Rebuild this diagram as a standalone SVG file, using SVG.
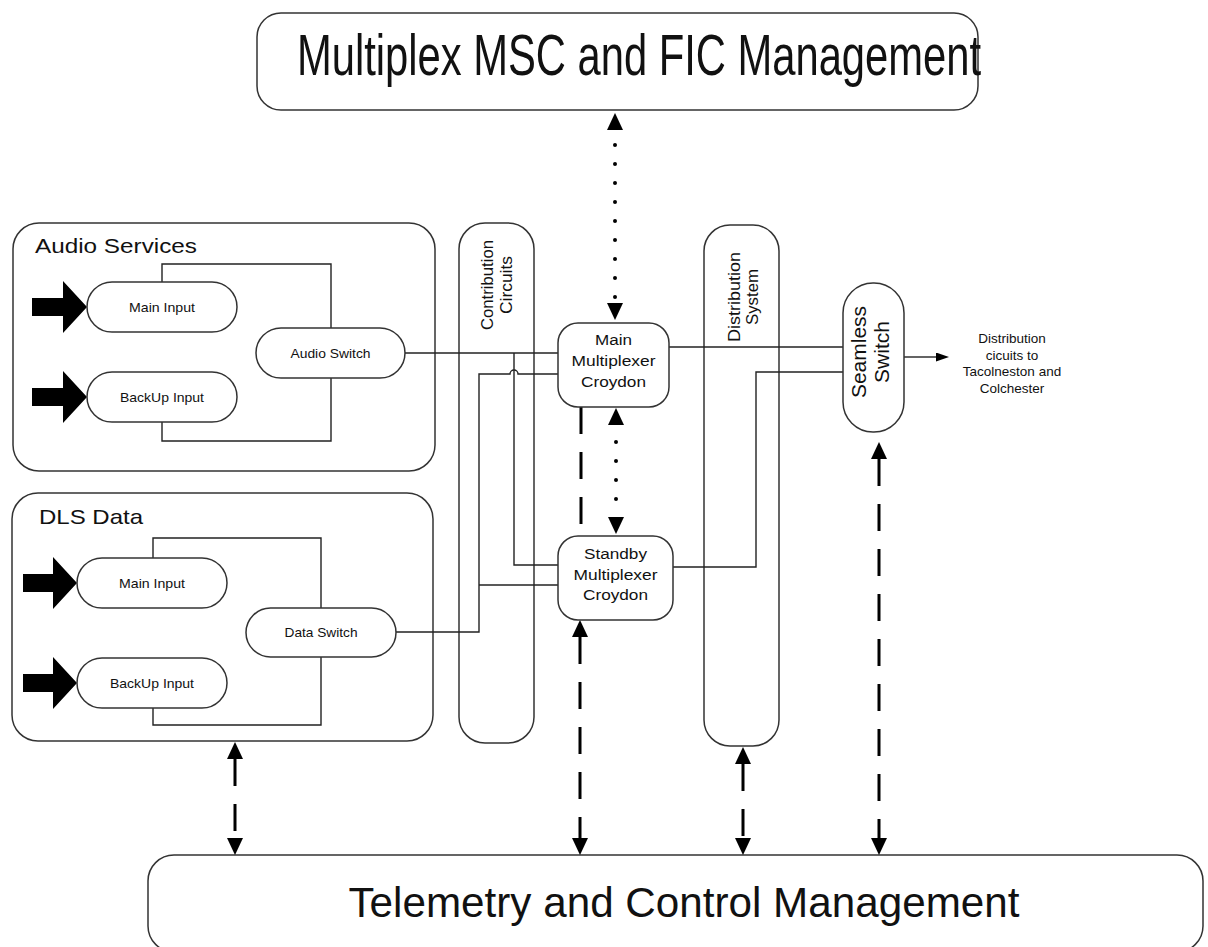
<svg xmlns="http://www.w3.org/2000/svg" width="1208" height="947" viewBox="0 0 1208 947">
<defs>
<style>
text{font-family:"Liberation Sans",Arial,sans-serif;fill:#111}
.box{fill:#fff;stroke:#333;stroke-width:1.5}
.wire{fill:none;stroke:#222;stroke-width:1.4}
.dash{fill:none;stroke:#000;stroke-width:3;stroke-dasharray:27 18}
.dot{fill:none;stroke:#000;stroke-width:4;stroke-linecap:round;stroke-dasharray:0 19}
.big{font-size:42px}
.ttl{font-size:21px}
.lbl{font-size:13px;text-anchor:middle}
.mux{font-size:15.5px;text-anchor:middle}
.rot{font-size:16px;text-anchor:middle}
.inarrow{fill:#000}
</style>
<marker id="ah" viewBox="0 0 17 16" refX="0" refY="8" markerWidth="17" markerHeight="16" markerUnits="userSpaceOnUse" orient="auto-start-reverse"><path d="M0,0 L17,8 L0,16 Z" fill="#000"/></marker>
<marker id="ahs" viewBox="0 0 13 9" refX="0" refY="4.5" markerWidth="13" markerHeight="9" markerUnits="userSpaceOnUse" orient="auto"><path d="M0,0 L13,4.5 L0,9 Z" fill="#000"/></marker>
</defs>
<rect width="1208" height="947" fill="#fff"/>

<g id="mux-mgmt">
<rect class="box" x="257" y="13" width="721" height="97" rx="24"/>
<text x="297" y="75" style="font-size:58px" textLength="684" lengthAdjust="spacingAndGlyphs">Multiplex MSC and FIC Management</text>
</g>

<g id="audio-services">
<rect class="box" x="13" y="223" width="422" height="248" rx="26"/>
<text class="ttl" x="35" y="253" textLength="162" lengthAdjust="spacingAndGlyphs">Audio Services</text>
</g>

<g id="dls-data">
<rect class="box" x="12" y="493" width="421" height="248" rx="26"/>
<text class="ttl" x="39" y="524" textLength="104" lengthAdjust="spacingAndGlyphs">DLS Data</text>
</g>

<g id="contribution-circuits">
<rect class="box" x="459" y="223" width="75" height="520" rx="26"/>
<g transform="translate(0,285) rotate(-90)">
<text class="rot" x="0" y="493" textLength="90" lengthAdjust="spacingAndGlyphs">Contribution</text>
<text class="rot" x="0" y="512" textLength="58" lengthAdjust="spacingAndGlyphs">Circuits</text>
</g>
</g>

<g id="distribution-system">
<rect class="box" x="704" y="225" width="75" height="521" rx="26"/>
<g transform="translate(0,297) rotate(-90)">
<text class="rot" x="0" y="740" textLength="90" lengthAdjust="spacingAndGlyphs">Distribution</text>
<text class="rot" x="0" y="758" textLength="56" lengthAdjust="spacingAndGlyphs">System</text>
</g>
</g>

<g id="telemetry">
<rect class="box" x="148" y="855" width="1055" height="97" rx="26"/>
<text class="big" x="684" y="917" text-anchor="middle" textLength="671" lengthAdjust="spacingAndGlyphs">Telemetry and Control Management</text>
</g>

<g id="connectors">
<path class="wire" d="M162,282 V264 H331 V328"/>
<path class="wire" d="M162,422 V441 H331 V378"/>
<path class="wire" d="M153,558 V538 H321 V608"/>
<path class="wire" d="M153,708 V725 H321 V657"/>
<path class="wire" d="M405,353 H558"/>
<path class="wire" d="M514,353 V565 H558"/>
<path class="wire" d="M396,632 H479 V374 H510 A4,4 0 0 1 518,374 H558"/>
<path class="wire" d="M479,585 H558"/>
<path class="wire" d="M669,347 H843"/>
<path class="wire" d="M673,567 H756 V372 H843"/>
<path class="wire" d="M904,357 H936" marker-end="url(#ahs)"/>
<path class="dot" d="M615,130 V303" style="stroke-dashoffset:4"/>
<path d="M615,130 V303" fill="none" stroke="none" marker-start="url(#ah)" marker-end="url(#ah)"/>
<path class="dot" d="M616,425 V517" style="stroke-dashoffset:2"/>
<path d="M616,425 V517" fill="none" stroke="none" marker-start="url(#ah)" marker-end="url(#ah)"/>
<path class="dash" d="M581,407 V525"/>
<path class="dash" d="M235,759 V838" marker-start="url(#ah)" marker-end="url(#ah)"/>
<path class="dash" d="M580,637 V838" marker-start="url(#ah)" marker-end="url(#ah)"/>
<path class="dash" d="M743,764 V838" marker-start="url(#ah)" marker-end="url(#ah)"/>
<path class="dash" d="M879,459 V838" marker-start="url(#ah)" marker-end="url(#ah)"/>
<polygon class="inarrow" points="32,298 63,298 63,281 87,307 63,333 63,316 32,316"/>
<polygon class="inarrow" points="32,388 63,388 63,371 87,397 63,423 63,406 32,406"/>
<polygon class="inarrow" points="23,574 53,574 53,557 77,583 53,609 53,592 23,592"/>
<polygon class="inarrow" points="23,674 53,674 53,657 77,683 53,709 53,692 23,692"/>
</g>

<g id="audio-main-input">
<rect class="box" x="87" y="282" width="150" height="50" rx="25"/>
<text class="lbl" x="162" y="312" textLength="66" lengthAdjust="spacingAndGlyphs">Main Input</text>
</g>
<g id="audio-backup-input">
<rect class="box" x="87" y="372" width="150" height="50" rx="25"/>
<text class="lbl" x="162" y="402" textLength="84" lengthAdjust="spacingAndGlyphs">BackUp Input</text>
</g>
<g id="audio-switch">
<rect class="box" x="256" y="328" width="149" height="50" rx="25"/>
<text class="lbl" x="330.5" y="358" textLength="80" lengthAdjust="spacingAndGlyphs">Audio Switch</text>
</g>

<g id="dls-main-input">
<rect class="box" x="77" y="558" width="150" height="50" rx="25"/>
<text class="lbl" x="152" y="588" textLength="66" lengthAdjust="spacingAndGlyphs">Main Input</text>
</g>
<g id="dls-backup-input">
<rect class="box" x="77" y="658" width="150" height="50" rx="25"/>
<text class="lbl" x="152" y="688" textLength="84" lengthAdjust="spacingAndGlyphs">BackUp Input</text>
</g>
<g id="data-switch">
<rect class="box" x="246" y="608" width="150" height="49" rx="24.5"/>
<text class="lbl" x="321" y="637" textLength="73" lengthAdjust="spacingAndGlyphs">Data Switch</text>
</g>

<g id="main-multiplexer">
<rect class="box" x="558" y="323" width="111" height="84" rx="20"/>
<text class="mux" x="613.5" y="345" textLength="37" lengthAdjust="spacingAndGlyphs">Main</text>
<text class="mux" x="613.5" y="366" textLength="84" lengthAdjust="spacingAndGlyphs">Multiplexer</text>
<text class="mux" x="613.5" y="387" textLength="65" lengthAdjust="spacingAndGlyphs">Croydon</text>
</g>

<g id="standby-multiplexer">
<rect class="box" x="558" y="536" width="115" height="84" rx="20"/>
<text class="mux" x="615.5" y="559" textLength="63" lengthAdjust="spacingAndGlyphs">Standby</text>
<text class="mux" x="615.5" y="580" textLength="84" lengthAdjust="spacingAndGlyphs">Multiplexer</text>
<text class="mux" x="615.5" y="600" textLength="65" lengthAdjust="spacingAndGlyphs">Croydon</text>
</g>

<g id="seamless-switch">
<rect class="box" x="843" y="283" width="61" height="149" rx="30"/>
<g transform="translate(0,352) rotate(-90)">
<text x="0" y="866" text-anchor="middle" style="font-size:21px">Seamless</text>
<text x="0" y="889" text-anchor="middle" style="font-size:21px">Switch</text>
</g>
</g>

<g id="distribution-circuits-label">
<text x="1012" y="343" text-anchor="middle" style="font-size:13.5px">Distribution</text>
<text x="1012" y="360" text-anchor="middle" style="font-size:13.5px">cicuits to</text>
<text x="1012" y="376" text-anchor="middle" style="font-size:13.5px">Tacolneston and</text>
<text x="1012" y="393" text-anchor="middle" style="font-size:13.5px">Colchester</text>
</g>
</svg>
